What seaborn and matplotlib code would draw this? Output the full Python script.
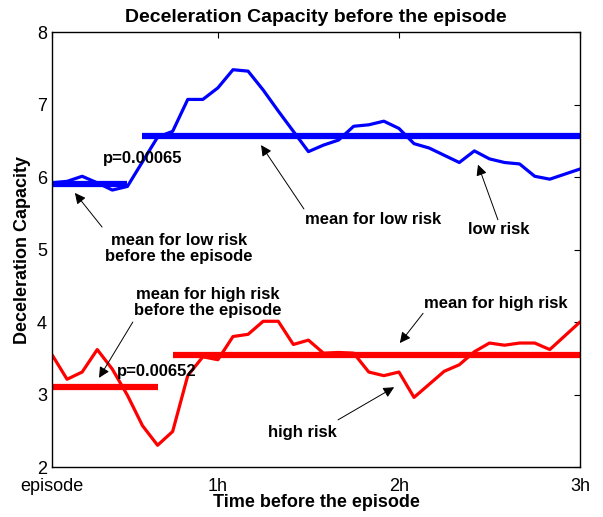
import numpy as np
import matplotlib
matplotlib.use('Agg')
import matplotlib.pyplot as plt
import seaborn as sns
import pandas as pd

# minutes before the episode, one sample every 5 minutes
minutes = np.arange(5, 185, 5)

low_risk = [5.92, 5.94, 6.01, 5.92, 5.82, 5.87, 6.21, 6.55, 6.63, 7.07,
            7.07, 7.23, 7.48, 7.46, 7.20, 6.91, 6.63, 6.35, 6.44, 6.51,
            6.70, 6.72, 6.77, 6.67, 6.46, 6.40, 6.30, 6.20, 6.36, 6.25,
            6.20, 6.18, 6.01, 5.97, 6.04, 6.11]

high_risk = [3.55, 3.21, 3.31, 3.62, 3.35, 2.99, 2.57, 2.30, 2.49, 3.26,
             3.52, 3.48, 3.80, 3.83, 4.01, 4.01, 3.69, 3.75, 3.57, 3.58,
             3.57, 3.31, 3.26, 3.31, 2.96, 3.14, 3.32, 3.41, 3.59, 3.71,
             3.68, 3.71, 3.71, 3.62, 3.81, 4.00]

# means (value, start minute, end minute)
low_pre_mean = [5.91, 5, 30]
low_mean = [6.57, 35, 180]
high_pre_mean = [3.11, 5, 40]
high_mean = [3.54, 45, 180]

p_low = 'p=0.00065'
p_high = 'p=0.00652'

tick_pos = [5, 60, 120, 180]
tick_labels = ['episode', '1h', '2h', '3h']

sns.set_style('white')
plt.rcParams['font.family'] = ['Liberation Sans', 'DejaVu Sans']
plt.rcParams['text.color'] = 'black'
plt.rcParams['axes.labelcolor'] = 'black'
plt.rcParams['axes.titlecolor'] = 'black'

fig = plt.figure(figsize=(6.03, 5.17), dpi=100)
ax = fig.add_axes([0.0862, 0.0967, 0.8756, 0.8414])

df = pd.DataFrame({'min': minutes, 'low': low_risk, 'high': high_risk})
sns.lineplot(data=df, x='min', y='low', color='#0000ff', lw=2.3, ax=ax)
sns.lineplot(data=df, x='min', y='high', color='#ff0000', lw=2.3, ax=ax)

for m, c in [(low_pre_mean, '#0000ff'), (low_mean, '#0000ff'),
             (high_pre_mean, '#ff0000'), (high_mean, '#ff0000')]:
    ax.plot([m[1], m[2]], [m[0], m[0]], color=c, lw=4.5, solid_capstyle='butt')

ax.set_xlim(5, 180)
ax.set_ylim(2, 8)
ax.set_xticks(tick_pos)
ax.set_xticklabels(tick_labels)
ax.set_yticks(range(2, 9))
ax.tick_params(direction='in', length=4, width=0.8, top=True, right=True,
               labelsize=13, colors='black')
ax.tick_params(axis='x', pad=8)
for s in ax.spines.values():
    s.set_color('black')
    s.set_linewidth(1.0)

ax.set_title('Deceleration Capacity before the episode', fontsize=14,
             fontweight='bold', color='black', pad=7)
ax.set_xlabel('Time before the episode', fontsize=13, fontweight='bold', labelpad=-1)
ax.set_ylabel('Deceleration Capacity', fontsize=13, fontweight='bold', labelpad=4)

arrow = dict(arrowstyle='-|>', color='black', lw=0.7, mutation_scale=16,
             shrinkA=0, shrinkB=0)
# (tip, tail)
arrows = [((12.6, 5.78), (21.6, 5.31)),
          ((74.3, 6.44), (88.5, 5.56)),
          ((146.2, 6.17), (152.8, 5.41)),
          ((20.6, 3.23), (31.8, 4.00)),
          ((120.3, 3.71), (128.0, 4.12)),
          ((118.4, 3.10), (99.8, 2.65))]
for tip, tail in arrows:
    ax.annotate('', xy=tip, xytext=tail, arrowprops=arrow)

tk = dict(fontsize=12, fontweight='bold', color='black')
ax.text(21.9, 6.26, p_low, ha='left', va='center', **tk)
ax.text(26.5, 3.32, p_high, ha='left', va='center', **tk)
ax.text(47.1, 5.01, 'mean for low risk\nbefore the episode', ha='center',
        va='center', linespacing=1.1, **tk)
ax.text(88.9, 5.42, 'mean for low risk', ha='left', va='center', **tk)
ax.text(142.9, 5.27, 'low risk', ha='left', va='center', **tk)
ax.text(56.7, 4.27, 'mean for high risk\nbefore the episode', ha='center',
        va='center', linespacing=1.1, **tk)
ax.text(128.3, 4.25, 'mean for high risk', ha='left', va='center', **tk)
ax.text(76.6, 2.48, 'high risk', ha='left', va='center', **tk)

fig.savefig('out.png', dpi=100)
